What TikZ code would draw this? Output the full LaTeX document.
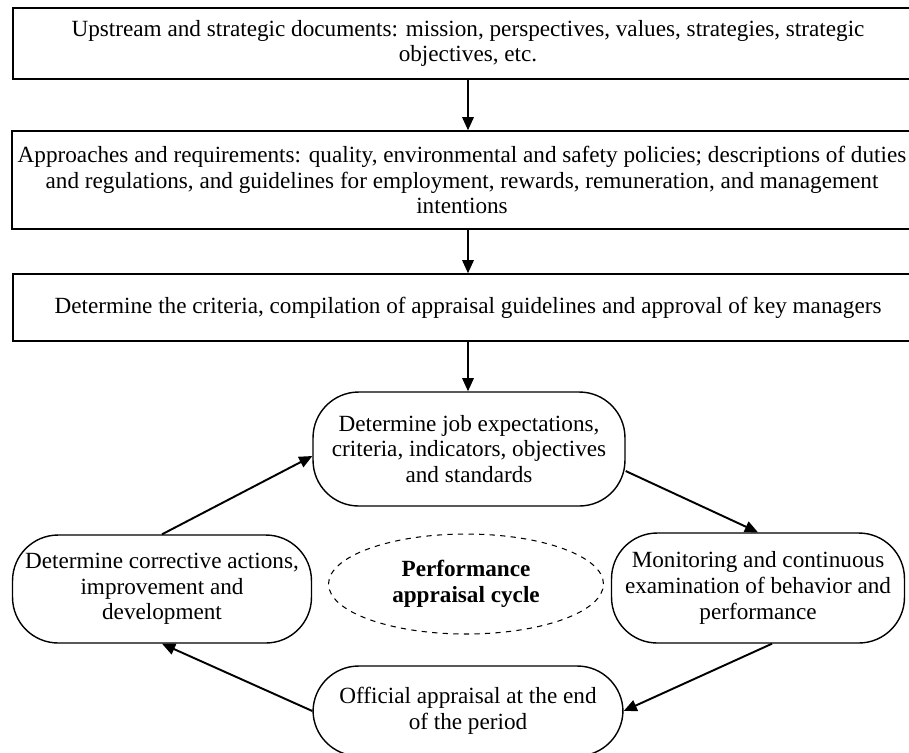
\documentclass[tikz,border=0pt]{standalone}
\usepackage{fontspec}
\setmainfont{Liberation Serif}
\usetikzlibrary{arrows.meta,shapes.geometric}

\begin{document}
\begin{tikzpicture}[x=0.02cm, y=-0.02cm,
    topbox/.style={draw, line width=0.8pt, minimum width=18.2cm, align=center, inner sep=0pt,
        font=\fontsize{13.2}{14.6}\selectfont},
    cyclebox/.style={draw, line width=0.8pt, rounded corners=26pt, align=center, inner sep=0pt,
        font=\fontsize{13.2}{14.6}\selectfont},
    flow/.style={-{Triangle[length=7.5pt,width=6.5pt]}, line width=1.1pt}]
    \useasboundingbox (0,0) rectangle (909,752);

    % the chain of documents on top
    \node[topbox, minimum height=1.42cm] (upstream) at (468,43.5)
        {Upstream and strategic documents: mission, perspectives, values, strategies, strategic\\objectives, etc.};
    \node[topbox, minimum width=18cm, minimum height=1.96cm] (approach) at (462,180)
        {Approaches and requirements: quality, environmental and safety policies; descriptions of duties\\and regulations, and guidelines for employment, rewards, remuneration, and management\\intentions};
    \node[topbox, minimum height=1.34cm] (criteria) at (468,307.5)
        {Determine the criteria, compilation of appraisal guidelines and approval of key managers};

    % the cycle
    \node[cyclebox, minimum width=6.24cm, minimum height=2.28cm] (job) at (469,449)
        {Determine job expectations,\\criteria, indicators, objectives\\and standards};
    \node[cyclebox, minimum width=5.86cm, minimum height=2.2cm] (monitor) at (758,588)
        {Monitoring and continuous\\examination of behavior and\\performance};
    \node[cyclebox, minimum width=6.2cm, minimum height=1.8cm] (official) at (468,711)
        {Official appraisal at the end\\of the period};
    \node[cyclebox, minimum width=5.98cm, minimum height=2.16cm] (corrective) at (162,589)
        {Determine corrective actions,\\improvement and\\development};
    \node[draw, dashed, ellipse, line width=0.6pt, minimum width=5.5cm, minimum height=2cm,
        align=center, inner sep=0pt, font=\fontsize{13.2}{14.6}\selectfont\bfseries] (cycle) at (466,584)
        {Performance\\appraisal cycle};

    \draw[flow] (upstream.south) -- (upstream.south |- approach.north);
    \draw[flow] (upstream.south |- approach.south) -- (upstream.south |- criteria.north);
    \draw[flow] (criteria.south) -- (criteria.south |- job.north);

    \draw[flow] (job.-8) -- (monitor.north);
    \draw[flow] ([xshift=0.28cm]monitor.south) -- (official.east);
    \draw[flow] (official.west) -- (corrective.south);
    \draw[flow] (corrective.north) -- ([yshift=-0.14cm]job.west);
\end{tikzpicture}
\end{document}
